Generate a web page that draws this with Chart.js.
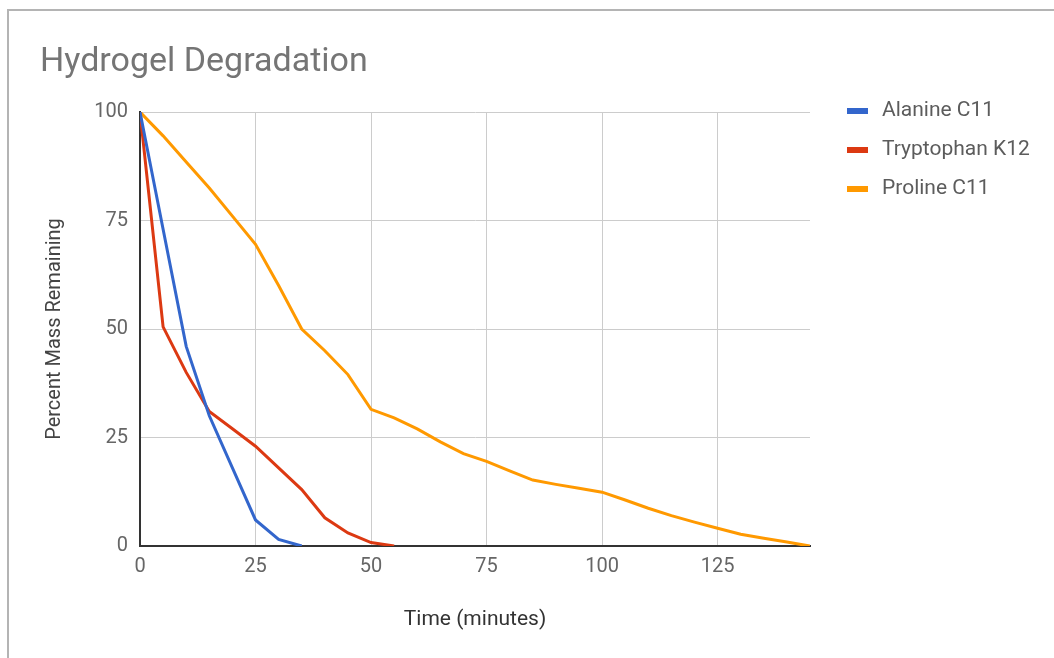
<!DOCTYPE html>
<html>
<head>
<meta charset="utf-8">
<title>Hydrogel Degradation</title>
<script src="https://cdn.jsdelivr.net/npm/chart.js@4.4.1/dist/chart.umd.min.js"></script>
<style>
    html, body { margin: 0; padding: 0; background: #fff; }
    #wrap { position: relative; width: 1054px; height: 658px; overflow: hidden; }
    #frame { position: absolute; left: 7px; top: 9px; width: 1100px; height: 700px;
             border-left: 2px solid #b4b4b4; border-top: 2px solid #b4b4b4; pointer-events: none; }
</style>
</head>
<body>
<div id="wrap">
    <canvas id="degChart" width="1054" height="658"></canvas>
    <div id="frame"></div>
</div>
<script>
const minutes = [0, 5, 10, 15, 20, 25, 30, 35, 40, 45, 50, 55, 60, 65, 70, 75, 80, 85, 90, 95,
    100, 105, 110, 115, 120, 125, 130, 135, 140, 145];
const alanine = [100, 73, 46, 30, 18, 6, 1.5, 0];
const tryptophan = [100, 50.5, 40, 31, 27, 23, 18, 13, 6.5, 3, 0.8, 0];
const proline = [100, 94.5, 88.5, 82.5, 76, 69.5, 60, 50, 45, 39.5, 31.5, 29.5, 27, 24, 21.3, 19.5,
    17.3, 15.2, 14.2, 13.3, 12.4, 10.6, 8.7, 7, 5.5, 4.1, 2.7, 1.8, 0.9, 0];
const seriesNames = ['Alanine C11', 'Tryptophan K12', 'Proline C11'];
const seriesColors = ['#3366cc', '#dc3912', '#ff9900'];
const xTicks = [0, 25, 50, 75, 100, 125];
const yTicks = [0, 25, 50, 75, 100];

function toPoints(values) {
    return values.map((v, i) => ({ x: minutes[i], y: v }));
}

/*legend drawn at the right, like the sheets chart*/
const sideLegend = {
    id: 'sideLegend',
    afterDraw(chart) {
        const ctx = chart.ctx;
        ctx.save();
        ctx.font = '21px Roboto';
        ctx.textBaseline = 'middle';
        chart.data.datasets.forEach((ds, i) => {
            const y = 111 + i * 39;
            ctx.fillStyle = ds.borderColor;
            ctx.fillRect(847, y - 3, 21, 6);
            ctx.fillStyle = '#5c5c5c';
            ctx.fillText(ds.label, 882, y);
        });
        ctx.restore();
    }
};

const ctx = document.getElementById('degChart').getContext('2d');
new Chart(ctx, {
    type: 'line',
    data: {
        datasets: [alanine, tryptophan, proline].map((vals, i) => ({
            label: seriesNames[i],
            data: toPoints(vals),
            borderColor: seriesColors[i],
            backgroundColor: seriesColors[i],
            borderWidth: 3,
            pointRadius: 0,
            tension: 0,
            fill: false
        }))
    },
    options: {
        responsive: false,
        animation: false,
        layout: { padding: { left: 40, right: 244, top: 0, bottom: 0 } },
        plugins: {
            legend: { display: false },
            tooltip: { enabled: false },
            title: {
                display: true,
                text: 'Hydrogel Degradation',
                align: 'start',
                color: '#757575',
                font: { family: 'Roboto', size: 34, weight: 'normal' },
                padding: { top: 42, bottom: 29.2 }
            }
        },
        scales: {
            x: {
                type: 'linear',
                min: 0,
                max: 145,
                afterFit: s => { s.height = 112; },
                afterBuildTicks: s => { s.ticks = xTicks.map(v => ({ value: v })); },
                grid: { color: '#cccccc', drawTicks: false },
                border: { color: '#333', width: 2 },
                ticks: { color: '#666', padding: 9, font: { family: 'Roboto', size: 20 }, maxRotation: 0 },
                title: {
                    display: true,
                    text: 'Time (minutes)',
                    color: '#333',
                    font: { family: 'Roboto', size: 21 },
                    padding: { top: 4, bottom: 26 }
                }
            },
            y: {
                min: 0,
                max: 100,
                afterFit: s => { s.width = 100; },
                afterBuildTicks: s => { s.ticks = yTicks.map(v => ({ value: v })); },
                grid: { color: '#cccccc', drawTicks: false },
                border: { color: '#333', width: 2 },
                ticks: { color: '#666', padding: 12, font: { family: 'Roboto', size: 20 } },
                title: {
                    display: true,
                    text: 'Percent Mass Remaining',
                    color: '#444',
                    font: { family: 'Roboto', size: 20 },
                    padding: { top: 3, bottom: 4 }
                }
            }
        }
    },
    plugins: [sideLegend]
});
</script>
</body>
</html>
